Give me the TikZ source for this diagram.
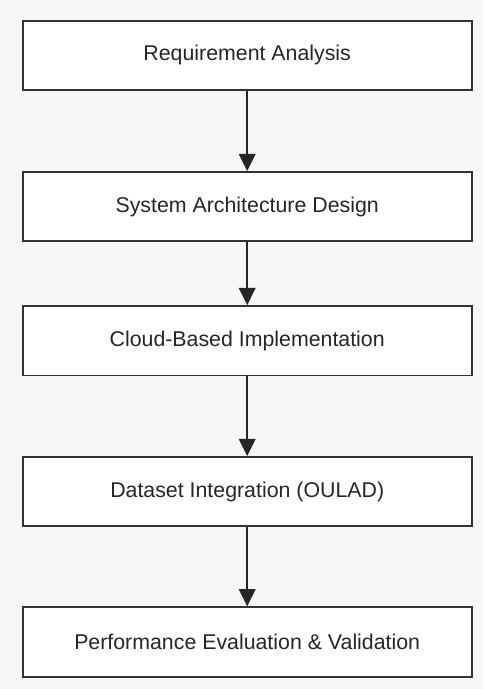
\documentclass[tikz,border=0pt]{standalone}
\usepackage{fontspec}
\setmainfont{Liberation Sans}
\usetikzlibrary{arrows.meta}
\definecolor{bgc}{HTML}{F7F7F7}
\definecolor{edge}{HTML}{333333}
\begin{document}
\begin{tikzpicture}[x=0.75pt,y=-0.75pt,
  stepbox/.style={draw=edge,fill=white,line width=1.4pt,minimum width=336.75pt,minimum height=52pt,inner sep=0pt,font=\fontsize{16}{19}\selectfont,text=black!85},
  flow/.style={draw=black!85,line width=1.3pt,-{Triangle[width=12.5pt,length=13pt]}}]
\fill[bgc] (0,0) rectangle (483,689);
\useasboundingbox (0,0) rectangle (483,689);
\node[stepbox] (a) at (247.2,55.3) {Requirement Analysis};
\node[stepbox] (b) at (247.2,206.7) {System Architecture Design};
\node[stepbox] (c) at (247.2,340.8) {Cloud-Based Implementation};
\node[stepbox] (d) at (247.2,491.7) {Dataset Integration (OULAD)};
\node[stepbox] (e) at (247.2,642.0) {Performance Evaluation \& Validation};
\draw[flow] (a) -- (b);
\draw[flow] (b) -- (c);
\draw[flow] (c) -- (d);
\draw[flow] (d) -- (e);
\end{tikzpicture}
\end{document}
